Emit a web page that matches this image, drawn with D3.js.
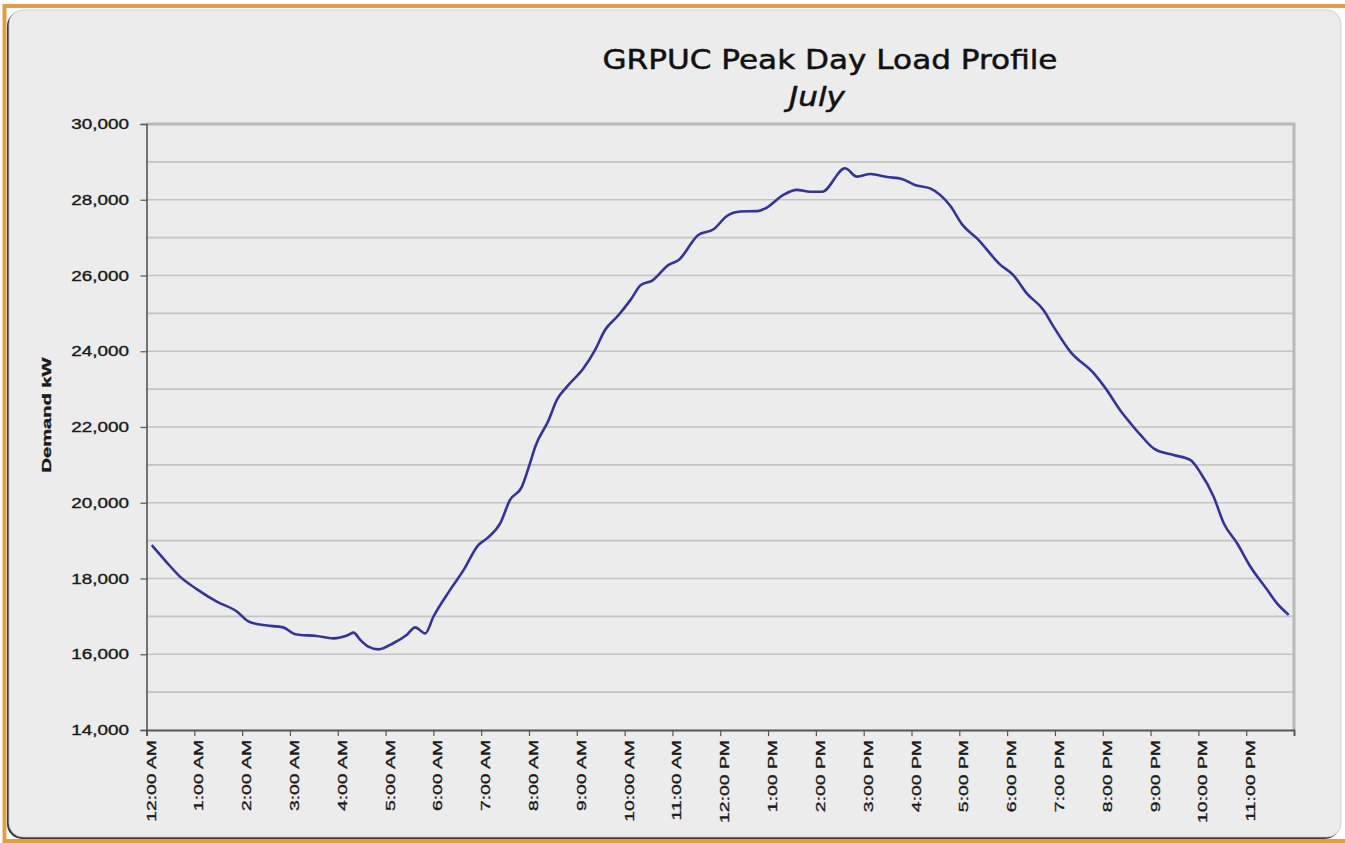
<!DOCTYPE html>
<html>
<head>
<meta charset="utf-8">
<script src="https://cdn.jsdelivr.net/npm/d3@7/dist/d3.min.js"></script>
<style>
    body { margin: 0; background: #ffffff; }
    svg { display: block; }
    .tickLabel { font-family: "Liberation Sans", Arial, sans-serif; fill: #1a1a1a; stroke: #1a1a1a; stroke-width: 0.35px; }
    .chartTitle { font-family: "DejaVu Sans", Verdana, sans-serif; fill: #111; stroke: #111; stroke-width: 0.5px; }
</style>
</head>
<body>
<script>
(function() {

    //hour of day (decimal) and demand
    let hours = [0.11, 0.40, 0.70, 1.05, 1.47, 1.89, 2.13, 2.44, 2.86, 3.11, 3.56, 3.91,
        4.22, 4.33, 4.47, 4.64, 4.85, 5.16, 5.44, 5.62, 5.83, 6.00, 6.35, 6.63, 6.94,
        7.12, 7.40, 7.60, 7.85, 8.02, 8.13, 8.41, 8.58, 8.79, 9.14, 9.38, 9.59, 9.87,
        10.12, 10.34, 10.57, 10.92, 11.13, 11.54, 11.86, 12.14, 12.42, 12.77, 12.94,
        13.32, 13.60, 13.88, 14.13, 14.61, 14.86, 15.14, 15.49, 15.80, 16.07, 16.39,
        16.81, 17.07, 17.37, 17.86, 18.13, 18.41, 18.76, 18.97, 19.32, 19.81, 20.06,
        20.36, 20.58, 20.79, 21.08, 21.48, 21.83, 22.04, 22.32, 22.53, 22.81, 23.09,
        23.44, 23.64, 23.89];
    let demand = [18880, 18460, 18050, 17720, 17390, 17130, 16870, 16770, 16710, 16530, 16480, 16420,
        16510, 16570, 16380, 16200, 16130, 16290, 16510, 16710, 16550, 16990, 17700, 18220, 18880,
        19060, 19460, 20070, 20420, 21040, 21480, 22180, 22710, 23060, 23550, 24030, 24560, 24950,
        25350, 25750, 25860, 26280, 26410, 27070, 27220, 27570, 27690, 27700, 27770,
        28130, 28260, 28210, 28210, 28830, 28610, 28680, 28600, 28550, 28390, 28300,
        27840, 27330, 26980, 26280, 26010, 25530, 25090, 24650, 23990, 23420, 23020,
        22450, 22100, 21790, 21420, 21260, 21130, 20800, 20160, 19460, 18930, 18310,
        17700, 17350, 17040];

    let hourLabels = ["12:00 AM", "1:00 AM", "2:00 AM", "3:00 AM", "4:00 AM", "5:00 AM",
        "6:00 AM", "7:00 AM", "8:00 AM", "9:00 AM", "10:00 AM", "11:00 AM",
        "12:00 PM", "1:00 PM", "2:00 PM", "3:00 PM", "4:00 PM", "5:00 PM",
        "6:00 PM", "7:00 PM", "8:00 PM", "9:00 PM", "10:00 PM", "11:00 PM"];
    let yTicks = [14000, 16000, 18000, 20000, 22000, 24000, 26000, 28000, 30000];
    let yGrid = d3.range(14000, 30001, 1000);

    window.onload = function () {
        let width = 1345,
            height = 843;

        let left = 146.5, right = 1294, top = 124, bottom = 730;

        var svg = d3.select("body")
            .append("svg")
            .attr("width", width)
            .attr("height", height);

        setFrame(svg);

        var x = d3.scaleLinear()
            .domain([0, 24])
            .range([left, right]);

        var y = d3.scaleLinear()
            .domain([14000, 30000])
            .range([bottom, top]);

        setGrid(svg, x, y);
        setLine(svg, x, y);
        setAxes(svg, x, y);
        setTitles(svg);
    };

    function setFrame(svg) {
        //orange window edge
        svg.append("rect")
            .attr("x", 4.5)
            .attr("y", 6)
            .attr("width", 1360)
            .attr("height", 835)
            .attr("fill", "none")
            .attr("stroke", "#e59c45")
            .attr("stroke-width", 4);

        //dark shadow on left and bottom, then the panel
        svg.append("rect")
            .attr("x", 7)
            .attr("y", 11)
            .attr("width", 1333)
            .attr("height", 828)
            .attr("rx", 15)
            .attr("fill", "#3a3a3a");

        svg.append("rect")
            .attr("x", 9)
            .attr("y", 10)
            .attr("width", 1332)
            .attr("height", 827)
            .attr("rx", 14)
            .attr("fill", "#ececec")
            .attr("stroke", "#c8c8c8")
            .attr("stroke-width", 0.8);
    }

    function setGrid(svg, x, y) {
        svg.selectAll(".grid")
            .data(yGrid.slice(1, -1))
            .enter()
            .append("line")
            .attr("class", "grid")
            .attr("x1", x(0))
            .attr("x2", x(24))
            .attr("y1", function (d) { return y(d); })
            .attr("y2", function (d) { return y(d); })
            .attr("stroke", "#c3c3c3")
            .attr("stroke-width", 1.6);

        //top and right edge of the plot area
        svg.append("path")
            .attr("d", "M" + x(0) + "," + y(30000) + "H" + x(24) + "V" + y(14000))
            .attr("fill", "none")
            .attr("stroke", "#b9b9b9")
            .attr("stroke-width", 3);
    }

    function setLine(svg, x, y) {
        var points = hours.map(function (h, i) { return [h, demand[i]]; });

        var line = d3.line()
            .x(function (d) { return x(d[0]); })
            .y(function (d) { return y(d[1]); })
            .curve(d3.curveMonotoneX);

        svg.append("path")
            .datum(points)
            .attr("d", line)
            .attr("fill", "none")
            .attr("stroke", "#33339c")
            .attr("stroke-width", 2.6)
            .attr("stroke-linejoin", "round");
    }

    function setAxes(svg, x, y) {
        //left axis with ticks every 2,000
        var yAxis = svg.append("g")
            .attr("transform", "translate(" + x(0) + ",0)")
            .call(d3.axisLeft(y).tickValues(yTicks).tickSize(6).tickFormat(""));
        yAxis.select(".domain").attr("stroke", "#555").attr("stroke-width", 1.6);
        yAxis.selectAll(".tick line").attr("stroke", "#555").attr("stroke-width", 1.2);

        //bottom axis with a tick each hour
        var xAxis = svg.append("g")
            .attr("transform", "translate(0," + y(14000) + ")")
            .call(d3.axisBottom(x).tickValues(d3.range(0, 25)).tickSize(6).tickFormat(""));
        xAxis.select(".domain").attr("stroke", "#555").attr("stroke-width", 1.8);
        xAxis.selectAll(".tick line").attr("stroke", "#555").attr("stroke-width", 1.2);

        var fmt = d3.format(",");

        svg.selectAll(".yLabel")
            .data(yTicks)
            .enter()
            .append("text")
            .attr("class", "tickLabel yLabel")
            .attr("x", 129)
            .attr("y", function (d) { return y(d) + 5; })
            .attr("text-anchor", "end")
            .style("font-size", "14px")
            .text(function (d) { return fmt(d); })
            .each(function () {
                //labels in the picture are stretched along the baseline
                var len = this.getComputedTextLength();
                d3.select(this).attr("textLength", len * 1.35).attr("lengthAdjust", "spacingAndGlyphs");
            });

        svg.selectAll(".xLabel")
            .data(hourLabels)
            .enter()
            .append("text")
            .attr("class", "tickLabel xLabel")
            .attr("transform", function (d, i) {
                return "translate(" + (x(i) + 9) + "," + (y(14000) + 10) + ") rotate(-90)";
            })
            .attr("text-anchor", "end")
            .style("font-size", "13px")
            .text(function (d) { return d; })
            .each(function () {
                var len = this.getComputedTextLength();
                d3.select(this).attr("textLength", len * 1.49).attr("lengthAdjust", "spacingAndGlyphs");
            });

        svg.append("text")
            .attr("class", "tickLabel")
            .attr("transform", "translate(51,415) rotate(-90)")
            .attr("text-anchor", "middle")
            .style("font-size", "13px")
            .style("font-weight", "bold")
            .attr("textLength", 115)
            .attr("lengthAdjust", "spacingAndGlyphs")
            .text("Demand kW");
    }

    function setTitles(svg) {
        svg.append("text")
            .attr("class", "chartTitle")
            .attr("x", 830)
            .attr("y", 69)
            .attr("text-anchor", "middle")
            .style("font-size", "27px")
            .attr("textLength", 455)
            .attr("lengthAdjust", "spacingAndGlyphs")
            .text("GRPUC Peak Day Load Profile");

        svg.append("text")
            .attr("class", "chartTitle")
            .attr("x", 817)
            .attr("y", 106)
            .attr("text-anchor", "middle")
            .style("font-size", "27px")
            .style("font-style", "italic")
            .attr("textLength", 56)
            .attr("lengthAdjust", "spacingAndGlyphs")
            .text("July");
    }

})();
</script>
</body>
</html>
